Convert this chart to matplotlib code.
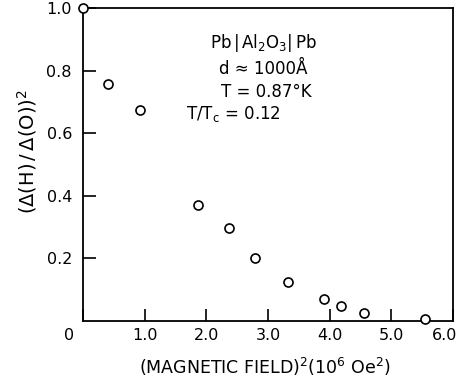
import matplotlib
matplotlib.use("Agg")
import matplotlib.pyplot as plt
from matplotlib.transforms import ScaledTranslation

field_sq = [0.0, 0.40, 0.92, 1.87, 2.37, 2.79, 3.32, 3.90, 4.19, 4.55, 5.55]
gap_ratio_sq = [1.0, 0.758, 0.674, 0.371, 0.297, 0.200, 0.126, 0.071, 0.048, 0.026, 0.006]

x_ticks = [0, 1, 2, 3, 4, 5, 6]
x_tick_labels = ["0", "1.0", "2.0", "3.0", "4.0", "5.0", "6.0"]
y_ticks = [0.2, 0.4, 0.6, 0.8, 1.0]
y_tick_labels = ["0.2", "0.4", "0.6", "0.8", "1.0"]

plt.rcParams['font.family'] = ['DejaVu Sans']

W, H = 458, 380
fig = plt.figure(figsize=(W/100, H/100), dpi=100)
ax = fig.add_axes([83/W, 1 - 321/H, (453-83)/W, (321-8)/H])

ax.plot(field_sq, gap_ratio_sq, linestyle='none', marker='o', markersize=6.5,
        markerfacecolor='white', markeredgecolor='black', markeredgewidth=1.2,
        clip_on=False, zorder=5)

ax.set_xlim(0, 6)
ax.set_ylim(0, 1.0)
ax.set_xticks(x_ticks)
ax.set_xticklabels(x_tick_labels)
ax.set_yticks(y_ticks)
ax.set_yticklabels(y_tick_labels)
ax.tick_params(direction='in', length=9, width=1.2, labelsize=11.5)
ax.tick_params(axis='x', pad=5)
ax.tick_params(axis='y', pad=8)
for s in ax.spines.values():
    s.set_linewidth(1.3)

# shift the end x tick labels inward, as in the reference
xlabels = ax.get_xticklabels()
xlabels[0].set_transform(xlabels[0].get_transform() + ScaledTranslation(-14/100, 0, fig.dpi_scale_trans))
xlabels[-1].set_transform(xlabels[-1].get_transform() + ScaledTranslation(-8/100, 0, fig.dpi_scale_trans))

fig.text(265/W, 1 - 367/H, r"(MAGNETIC FIELD)$^{2}$(10$^{6}$ Oe$^{2}$)",
         ha='center', va='center', fontsize=12.5)
fig.text(27/W, 1 - 152/H, r"$(\Delta(\mathrm{H})\,/\,\Delta(\mathrm{O}))^{2}$",
         ha='center', va='center', rotation=90, fontsize=14)

fs = 12
def place(xpx, ypx, s):
    fig.text(xpx/W, 1 - ypx/H, s, ha='left', va='center', fontsize=fs)

place(210, 43, r"Pb$\,|\,$Al$_2$O$_3$$|\,$Pb")
place(219, 69, "d ≈ 1000Å")
place(221, 92, "T = 0.87°K")
place(186, 114, r"T/T$_\mathrm{c}$ = 0.12")

fig.savefig("out.png", dpi=100)
